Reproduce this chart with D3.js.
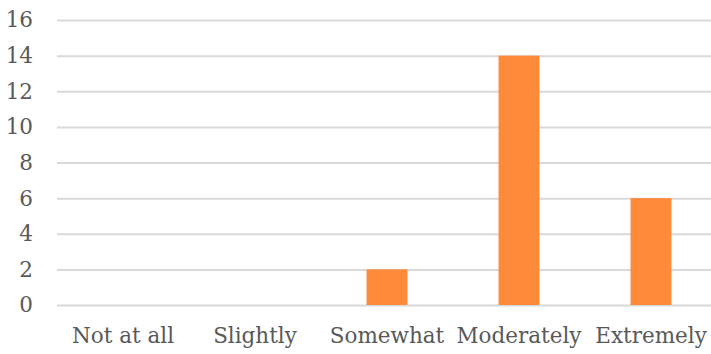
<!DOCTYPE html>
<html><head><meta charset="utf-8">
<script src="https://cdn.jsdelivr.net/npm/d3@7"></script>
<style>html,body{margin:0;padding:0;background:#fff;overflow:hidden}</style>
</head><body>
<svg id="chart" width="711" height="354"></svg>
<script>
const categories = ["Not at all", "Slightly", "Somewhat", "Moderately", "Extremely"];
const values = [0, 0, 2, 14, 6];
const yTicks = [0, 2, 4, 6, 8, 10, 12, 14, 16];

const svg = d3.select("#chart");
const font = "'DejaVu Serif', serif";
const x = d3.scaleBand().domain(categories).range([57, 717]).paddingInner(0.69).paddingOuter(0.345);
const y = d3.scaleLinear().domain([0, 16]).range([305, 20]);

const yAxis = d3.axisLeft(y).tickValues(yTicks).tickSize(-(711 - 57)).tickPadding(24);
const gy = svg.append("g").attr("transform", "translate(57,0)").call(yAxis);
gy.select(".domain").remove();
gy.selectAll(".tick line").attr("stroke", "#d9d9d9").attr("stroke-width", 2);
gy.selectAll(".tick text").attr("fill", "#595959").style("font-family", font).style("font-size", "21.5px");

svg.append("g").selectAll("rect").data(categories).join("rect")
  .attr("x", d => x(d))
  .attr("width", x.bandwidth())
  .attr("y", (d, i) => y(values[i]))
  .attr("height", (d, i) => y(0) - y(values[i]))
  .attr("fill", "#ff8a3a");

const xAxis = d3.axisBottom(x).tickSize(0).tickPadding(23);
const gx = svg.append("g").attr("transform", "translate(0,305)").call(xAxis);
gx.select(".domain").remove();
gx.selectAll(".tick text").attr("fill", "#595959").style("font-family", font).style("font-size", "21.5px");
</script>
</body></html>
